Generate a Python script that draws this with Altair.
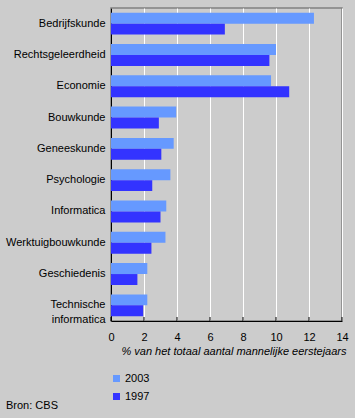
import altair as alt
import pandas as pd

categories = ["Bedrijfskunde", "Rechtsgeleerdheid", "Economie", "Bouwkunde",
              "Geneeskunde", "Psychologie", "Informatica", "Werktuigbouwkunde",
              "Geschiedenis", "Technische\ninformatica"]
v2003 = [12.3, 10.0, 9.7, 3.95, 3.8, 3.6, 3.35, 3.3, 2.2, 2.2]
v1997 = [6.9, 9.6, 10.8, 2.9, 3.05, 2.5, 3.0, 2.45, 1.6, 1.95]
years = ["2003", "1997"]
colors = ["#6699FF", "#3333FF"]
tick_values = [0, 2, 4, 6, 8, 10, 12, 14]

W, H = 231, 313
FONT = "Liberation Sans"

rows = []
for c, a, b in zip(categories, v2003, v1997):
    rows.append({"cat": c, "year": "2003", "value": a})
    rows.append({"cat": c, "year": "1997", "value": b})
df = pd.DataFrame(rows)

xscale = alt.Scale(domain=[0, 14], nice=False, zero=True)
xaxis = alt.Axis(values=tick_values, grid=True, gridColor="white",
                 gridOpacity=1, ticks=False, domainColor="black",
                 labelOverlap=False, labelFlush=False,
                 labelFontSize=11, labelColor="black", labelFont=FONT,
                 labelPadding=10,
                 title="% van het totaal aantal mannelijke eerstejaars",
                 titleFontStyle="italic", titleFontWeight="normal",
                 titleFontSize=11, titleFont=FONT, titleColor="black",
                 titleX=235, titleAlign="right", titleY=33,
                 titleBaseline="alphabetic")

bars = alt.Chart(df).mark_bar().encode(
    y=alt.Y("cat:N", sort=categories,
            scale=alt.Scale(paddingInner=0.3, paddingOuter=0.15),
            axis=alt.Axis(title=None, labelExpr="split(datum.label, '\\n')",
                          ticks=False, domainColor="black", labelPadding=6,
                          labelFontSize=11, labelColor="black", labelFont=FONT,
                          labelLineHeight=15, grid=False)),
    x=alt.X("value:Q", scale=xscale, axis=xaxis),
    yOffset=alt.YOffset("year:N", sort=years),
    color=alt.Color("year:N", scale=alt.Scale(domain=years, range=colors),
                    legend=alt.Legend(orient="none", legendX=0, legendY=365,
                                      title=None, symbolType="square",
                                      symbolSize=49, symbolStrokeWidth=0,
                                      labelFontSize=11, labelFont=FONT,
                                      labelColor="black", labelOffset=3,
                                      rowPadding=6, padding=0)),
)

ticks_df = pd.DataFrame({"t": tick_values})
ticks = alt.Chart(ticks_df).mark_rule(color="black").encode(
    x=alt.X("t:Q", scale=xscale, axis=xaxis),
    y=alt.value(H - 4),
    y2=alt.value(H),
)

src = alt.Chart(pd.DataFrame({"s": ["Bron: CBS"]})).mark_text(
    align="left", baseline="alphabetic", fontSize=11, font=FONT, color="black"
).encode(x=alt.value(-105), y=alt.value(401), text="s:N")

chart = alt.layer(bars, ticks, src).properties(
    width=W, height=H,
    autosize=alt.AutoSizeParams(type="none"),
    padding={"left": 111, "top": 8, "right": 13, "bottom": 97},
    background="#CCCCCC",
).configure_view(stroke="#808080", strokeWidth=1.5)

chart.save("out.html", embed_options={"renderer": "svg", "actions": False})
